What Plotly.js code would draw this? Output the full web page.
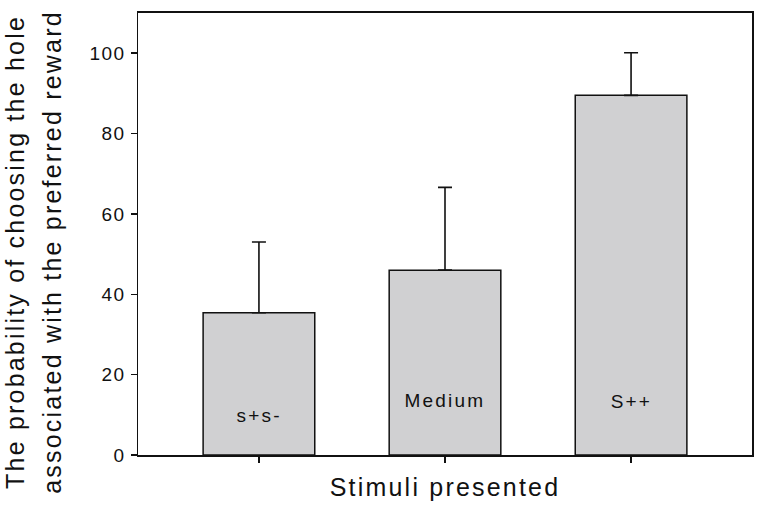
<!DOCTYPE html>
<html>
<head>
<meta charset="utf-8">
<script src="https://cdn.plot.ly/plotly-3.0.1.min.js"></script>
<style>
  html, body { margin: 0; padding: 0; background: #fff; }
  #chart { width: 762px; height: 512px; }
  .main-svg text { letter-spacing: 2px; }
  .main-svg .annotation-text, .main-svg .xtitle { letter-spacing: 2.2px; }
  .main-svg .ytick text { letter-spacing: 1.5px; }
</style>
</head>
<body>
<div id="chart"></div>
<script>
// Data
const categories = ["s+s-", "Medium", "S++"];
const means = [35.4, 46.0, 89.5];
const errorsUp = [17.6, 20.6, 10.6];
const errorsDown = [0, 0, 0];
const barLabels = ["s+s-", "Medium", "S++"];
const yTickVals = [0, 20, 40, 60, 80, 100];
const yTitleLines = ["The probability of choosing the hole", "associated with the preferred reward"];

const FONT = "Liberation Sans, Arial, sans-serif";
const INK = "#111111";

const trace = {
  type: "bar",
  x: categories,
  y: means,
  marker: { color: "#d0d0d2", line: { color: INK, width: 1.5 } },
  error_y: {
    type: "data",
    symmetric: false,
    array: errorsUp,
    arrayminus: errorsDown,
    color: INK,
    thickness: 1.6,
    width: 7
  },
  hoverinfo: "none"
};

const labelY = [9.9, 13.6, 13.4];
const annotations = barLabels.map((t, i) => ({
  x: categories[i], y: labelY[i], xref: "x", yref: "y",
  text: t, showarrow: false, xanchor: "center", yanchor: "middle",
  font: { family: FONT, size: 19, color: INK }
}));

// Y-axis title, drawn as two rotated lines
const titleX = [-0.2, -0.14];
yTitleLines.forEach((t, i) => {
  annotations.push({
    x: titleX[i], y: 0.459, xref: "paper", yref: "paper",
    text: t, showarrow: false, textangle: -90,
    xanchor: "center", yanchor: "middle",
    font: { family: FONT, size: 25, color: INK }
  });
});

const layout = {
  width: 762, height: 512,
  margin: { l: 138, r: 10, t: 13, b: 57 },
  paper_bgcolor: "#ffffff",
  plot_bgcolor: "#ffffff",
  showlegend: false,
  bargap: 0.4,
  font: { family: FONT, color: INK },
  xaxis: {
    type: "category",
    range: [-0.65, 2.65],
    tickvals: categories,
    ticktext: ["", "", ""],
    ticks: "outside", ticklen: 6, tickwidth: 1.5, tickcolor: INK,
    showline: true, linecolor: INK, linewidth: 2, mirror: true,
    showgrid: false, zeroline: false,
    title: { text: "Stimuli presented", font: { family: FONT, size: 25, color: INK }, standoff: 14 }
  },
  yaxis: {
    range: [0, 110],
    tickvals: yTickVals,
    ticks: "outside", ticklen: 6, tickwidth: 1.5, tickcolor: INK,
    tickfont: { family: FONT, size: 19, color: INK },
    ticklabelstandoff: 1,
    showline: true, linecolor: INK, linewidth: 1.5, mirror: true,
    showgrid: false, zeroline: false
  },
  annotations: annotations
};

Plotly.newPlot("chart", [trace], layout, { staticPlot: true, displayModeBar: false });
</script>
</body>
</html>
